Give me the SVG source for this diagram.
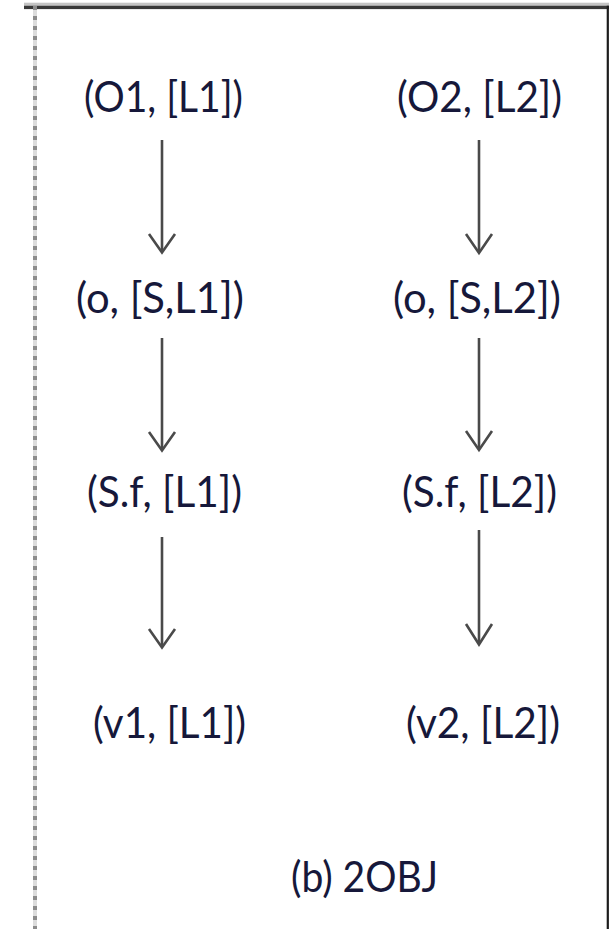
<svg xmlns="http://www.w3.org/2000/svg" width="615" height="929" viewBox="0 0 615 929">
  <style>
    .lbl { font-family: Lato, "Liberation Sans", sans-serif; font-size: 42px; fill: #16183a; }
    .edge { stroke: #4a4a4a; stroke-width: 2.6; fill: none; }
    .head { stroke: #4a4a4a; stroke-width: 2.6; fill: none; stroke-linejoin: miter; }
  </style>
  <rect width="615" height="929" fill="#ffffff"/>

  <!-- frame -->
  <g id="frame">
    <rect x="24" y="2.7" width="585" height="3" fill="#c4c4c4"/>
    <rect x="24" y="5.7" width="585" height="3.4" fill="#383838"/>
    <rect x="606.7" y="5.7" width="2.2" height="923.3" fill="#1c1c1c"/>
    <line x1="35" y1="6" x2="35" y2="929" stroke="#dcdcdc" stroke-width="4"/>
    <line x1="35" y1="6" x2="35" y2="929" stroke="#8c8c8c" stroke-width="4" stroke-dasharray="4 6"/>
  </g>

  <!-- connectors: shafts and open arrowheads -->
  <g id="connectors">
    <g class="edge">
      <line x1="162" y1="140" x2="162" y2="251"/>
      <line x1="162" y1="338" x2="162" y2="450"/>
      <line x1="162" y1="537" x2="162" y2="647"/>
      <line x1="479" y1="140" x2="479" y2="252"/>
      <line x1="479" y1="338" x2="479" y2="449"/>
      <line x1="479" y1="530" x2="479" y2="644"/>
    </g>
    <g class="head">
      <path d="M149,234 L162,252.5 L175,234"/>
      <path d="M149,432 L162,450.5 L175,432"/>
      <path d="M149,629 L162,647.5 L175,629"/>
      <path d="M466,234 L479,253 L492,234"/>
      <path d="M466,431 L479,450 L492,431"/>
      <path d="M466,624 L479,644.5 L492,624"/>
    </g>
  </g>

  <!-- left column -->
  <g id="n-o1">
    <text class="lbl" x="84" y="112" textLength="159" lengthAdjust="spacingAndGlyphs">(O1, [L1])</text>
  </g>
  <g id="n-o-s-l1">
    <text class="lbl" x="76" y="313" textLength="168" lengthAdjust="spacingAndGlyphs">(o, [S,L1])</text>
  </g>
  <g id="n-sf-l1">
    <text class="lbl" x="87" y="507" textLength="155" lengthAdjust="spacingAndGlyphs">(S.f, [L1])</text>
  </g>
  <g id="n-v1">
    <text class="lbl" x="93" y="738" textLength="153" lengthAdjust="spacingAndGlyphs">(v1, [L1])</text>
  </g>

  <!-- right column -->
  <g id="n-o2">
    <text class="lbl" x="397" y="112" textLength="165" lengthAdjust="spacingAndGlyphs">(O2, [L2])</text>
  </g>
  <g id="n-o-s-l2">
    <text class="lbl" x="393" y="313" textLength="168" lengthAdjust="spacingAndGlyphs">(o, [S,L2])</text>
  </g>
  <g id="n-sf-l2">
    <text class="lbl" x="402" y="507" textLength="155" lengthAdjust="spacingAndGlyphs">(S.f, [L2])</text>
  </g>
  <g id="n-v2">
    <text class="lbl" x="406" y="738" textLength="154" lengthAdjust="spacingAndGlyphs">(v2, [L2])</text>
  </g>

  <!-- caption -->
  <g id="caption">
    <text class="lbl" x="291" y="892" textLength="147" lengthAdjust="spacingAndGlyphs">(b) 2OBJ</text>
  </g>
</svg>
